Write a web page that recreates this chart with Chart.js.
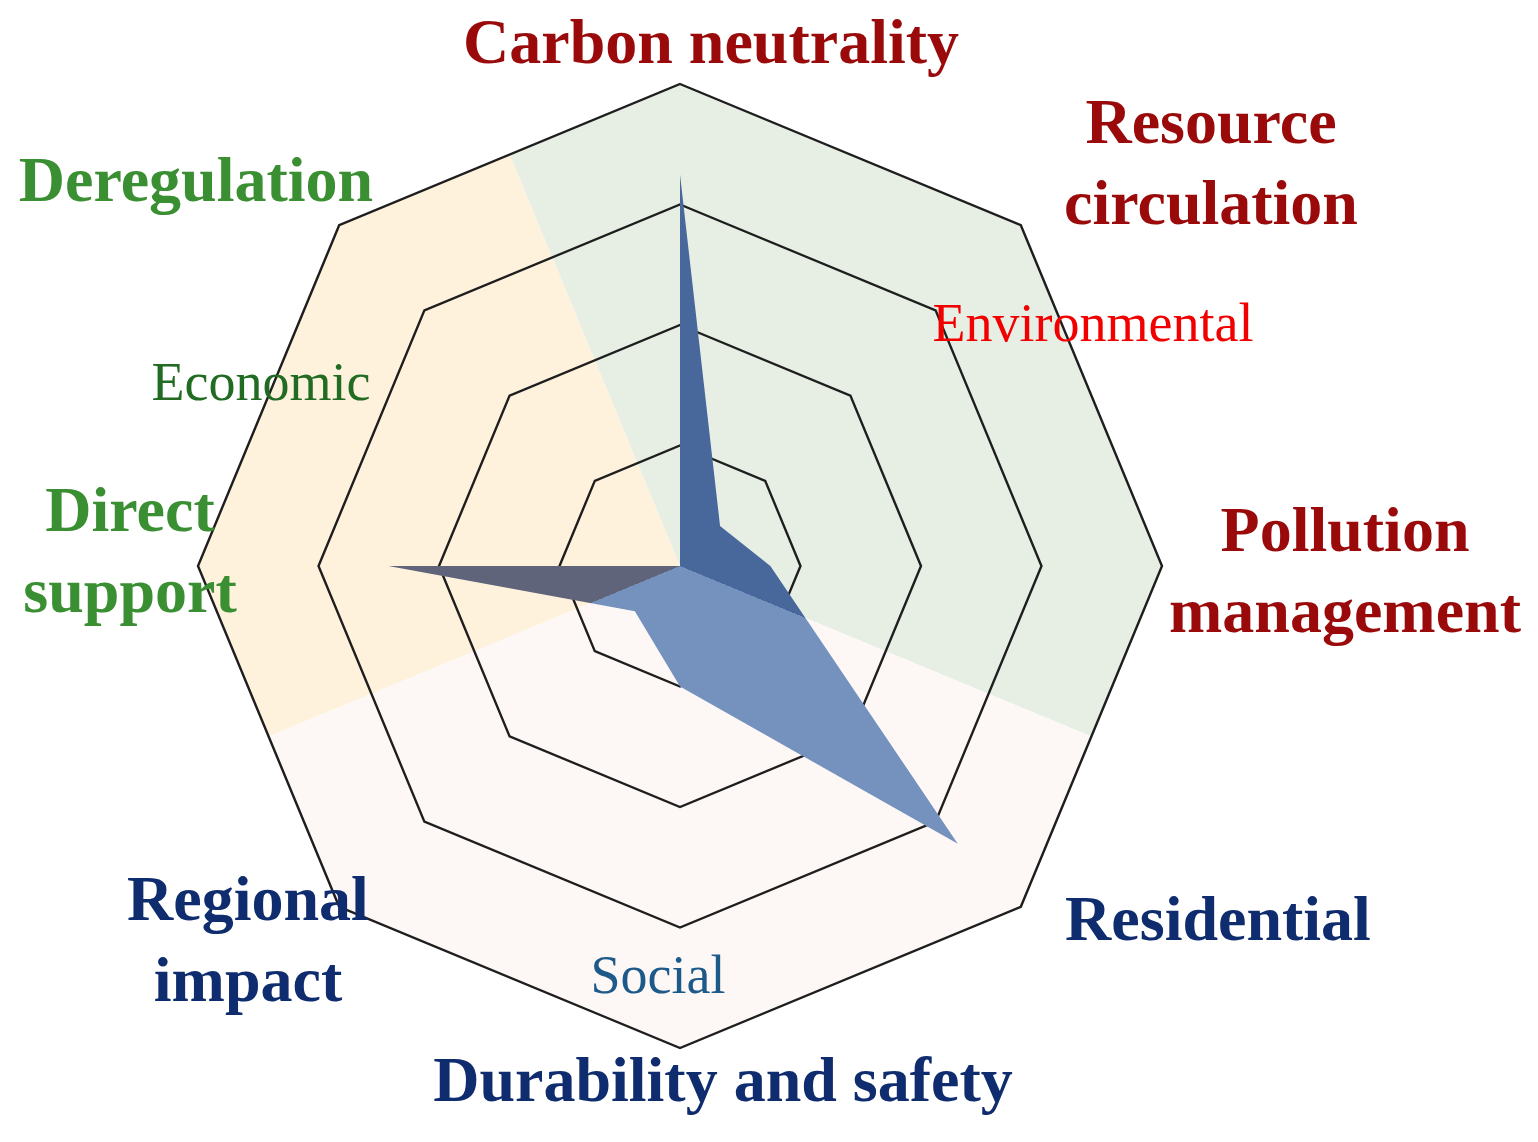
<!DOCTYPE html>
<html>
<head>
<meta charset="utf-8">
<script src="https://cdn.jsdelivr.net/npm/chart.js@4"></script>
<style>
  body { margin: 0; background: #fff; }
  #wrap { width: 1538px; height: 1142px; position: relative; }
</style>
</head>
<body>
<div id="wrap"><canvas id="myChart"></canvas></div>
<script>
// axes, clockwise from the top
const categories = [
  ['Carbon neutrality'],
  ['Resource', 'circulation'],
  ['Pollution', 'management'],
  ['Residential'],
  ['Durability and safety'],
  ['Regional', 'impact'],
  ['Direct', 'support'],
  ['Deregulation'],
];
const values = [3.25, 0.47, 0.75, 3.26, 1.0, 0.53, 2.42, 0];
const tickValues = [0, 1, 2, 3, 4];
const groups = ['Environmental', 'Economic', 'Social'];
// which group each axis belongs to
const axisGroup = [0, 0, 0, 2, 2, 2, 1, 1];

// styling
const groupColors = ['#9a0a0a', '#3a8f32', '#0f2d6e'];
const groupLabelColors = ['#f20000', '#226b22', '#1d5a8a'];
const sectorColors = ['#e7efe5', '#fef2dd', '#fdf8f6'];
const fillColors = ['#48679a', '#60647a', '#7592be'];
// sector spans in degrees, clockwise from the top: environmental, economic, social
const sectorSpans = [[-22.5, 112.5], [247.5, 337.5], [112.5, 247.5]];

// label placement, offsets from the centre (x centre, first baseline)
const labelPos = [
  [31, -503], [531, -423], [665, -15], [538, 374],
  [43, 535], [-432, 354], [-550, -35], [-484, -365],
];
const groupLabelPos = [[413, -225], [-419, -166], [-22, 427]];
const lineGap = 81;
const serif = '"Liberation Serif", "Times New Roman", serif';

function deg(a) { return (a - 90) * Math.PI / 180; }

function sectorGradient(ctx, cx, cy, colors) {
  const g = ctx.createConicGradient(-Math.PI / 2, cx, cy);
  // green wraps around the top
  g.addColorStop(0, colors[0]);
  g.addColorStop(112.5 / 360, colors[0]);
  g.addColorStop(112.5 / 360, colors[2]);
  g.addColorStop(247.5 / 360, colors[2]);
  g.addColorStop(247.5 / 360, colors[1]);
  g.addColorStop(337.5 / 360, colors[1]);
  g.addColorStop(337.5 / 360, colors[0]);
  g.addColorStop(1, colors[0]);
  return g;
}

const sectorPlugin = {
  id: 'sectors',
  beforeDraw(chart) {
    const r = chart.scales.r;
    const ctx = chart.ctx;
    ctx.save();
    ctx.beginPath();
    for (let i = 0; i < categories.length; i++) {
      const p = r.getPointPosition(i, r.drawingArea);
      if (i == 0) ctx.moveTo(p.x, p.y); else ctx.lineTo(p.x, p.y);
    }
    ctx.closePath();
    ctx.clip();
    for (let s = 0; s < sectorSpans.length; s++) {
      ctx.beginPath();
      ctx.moveTo(r.xCenter, r.yCenter);
      ctx.arc(r.xCenter, r.yCenter, r.drawingArea * 2, deg(sectorSpans[s][0]), deg(sectorSpans[s][1]));
      ctx.closePath();
      ctx.fillStyle = sectorColors[s];
      ctx.fill();
    }
    ctx.restore();
  },
  afterDraw(chart) {
    const r = chart.scales.r;
    const ctx = chart.ctx;
    ctx.save();
    ctx.textAlign = 'center';
    ctx.textBaseline = 'alphabetic';
    ctx.font = 'bold 64px ' + serif;
    for (let i = 0; i < categories.length; i++) {
      ctx.fillStyle = groupColors[axisGroup[i]];
      categories[i].forEach((line, k) => {
        ctx.fillText(line, r.xCenter + labelPos[i][0], r.yCenter + labelPos[i][1] + k * lineGap);
      });
    }
    ctx.font = '54px ' + serif;
    for (let g = 0; g < groups.length; g++) {
      ctx.fillStyle = groupLabelColors[g];
      ctx.fillText(groups[g], r.xCenter + groupLabelPos[g][0], r.yCenter + groupLabelPos[g][1]);
    }
    ctx.restore();
  },
};

var ctx = document.getElementById('myChart').getContext('2d');
let myChart = new Chart(ctx, {
  type: 'radar',
  data: {
    labels: categories.map(c => c.join(' ')),
    datasets: [{
      data: values,
      fill: true,
      borderWidth: 0,
      pointRadius: 0,
      backgroundColor: (c) => {
        const r = c.chart.scales.r;
        if (!r || !r.xCenter) return fillColors[2];
        return sectorGradient(c.chart.ctx, r.xCenter, r.yCenter, fillColors);
      },
    }],
  },
  options: {
    responsive: true,
    maintainAspectRatio: false,
    animation: false,
    layout: { padding: { left: 198, right: 376, top: 82, bottom: 92 } },
    plugins: { legend: { display: false }, tooltip: { enabled: false } },
    scales: {
      r: {
        z: 1,
        min: tickValues[0],
        max: tickValues[tickValues.length - 1],
        ticks: { display: false, stepSize: 1 },
        pointLabels: { display: false },
        angleLines: { display: false },
        grid: { color: '#1e1e1e', lineWidth: 2.4 },
      },
    },
  },
  plugins: [sectorPlugin],
});
</script>
</body>
</html>
